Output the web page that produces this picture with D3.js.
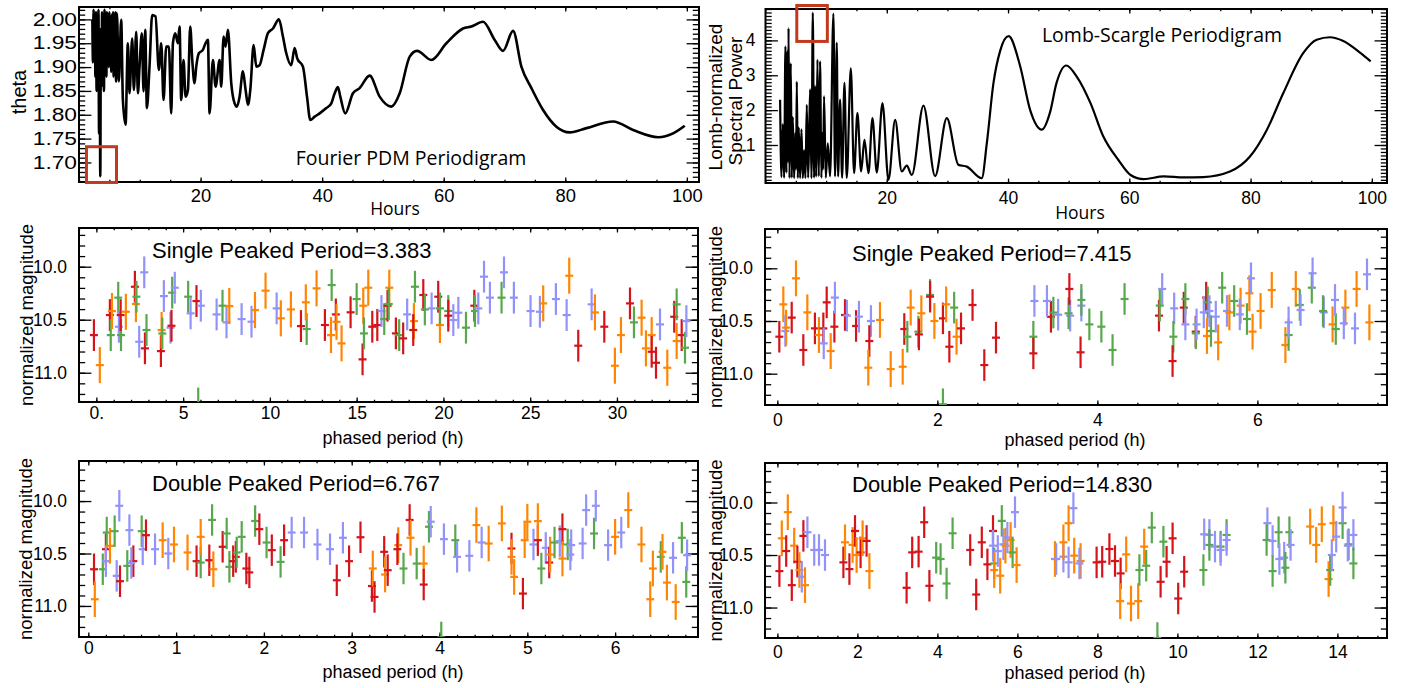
<!DOCTYPE html>
<html>
<head>
<meta charset="utf-8">
<script src="https://cdn.jsdelivr.net/npm/d3@7"></script>
<style>
  body { margin: 0; background: #fff; }
  svg text { font-family: "Liberation Sans", Arial, sans-serif; fill: #000; }
</style>
</head>
<body>
<script>
// ----- data -----

// Fourier PDM periodigram (hours vs theta)
const pdmHours = [2.2,2.3,2.4,2.5,2.6,2.7,2.8,2.9,3.0,3.1,3.2,3.3,3.4,3.5,3.6,3.7,3.8,3.9,4.0,4.1,4.2,4.3,4.4,4.5,4.6,4.7,4.8,4.9,5.0,5.1,5.2,5.3,5.4,5.5,5.6,5.7,5.8,5.9,6.0,6.1,
  6.23,6.56,6.94,7.22,7.66,8.04,8.31,8.75,9.03,9.41,9.69,9.96,10.34,10.62,10.89,11.17,11.6,12.04,12.59,13.14,13.53,13.91,14.35,14.79,15.17,15.45,15.83,16.27,16.54,16.82,
  17.2,17.53,17.92,18.3,18.63,19.01,19.29,19.72,20.38,20.82,21.21,21.48,22.03,22.47,23.13,23.4,23.79,24.12,24.5,25.05,25.6,25.98,26.42,26.97,27.41,27.8,28.18,28.73,29.17,29.71,
  30.37,31.08,31.91,32.89,33.55,34.1,34.92,35.47,35.91,36.84,37.51,38.05,38.77,39.59,40.69,41.51,42.06,42.6,42.99,43.8,45.07,46.17,47.82,49.46,51.39,52.76,54.41,55.61,57.97,
  60.44,63.18,64.55,66.47,68.39,69.76,71.41,72.78,74.43,76.35,78.54,80.74,83.48,87.87,91.16,95.28,97.74,99.66];
const pdmTheta = [2.0,1.91,2.02,1.93,2.01,1.88,2.015,1.85,2.0,1.9,2.02,1.76,1.98,1.671,1.98,1.86,2.015,1.93,2.01,1.85,2.02,1.94,2.0,1.88,2.015,1.95,2.01,1.9,2.015,1.93,1.99,1.89,2.01,1.94,2.015,1.88,2.0,1.95,2.015,1.87,
  2.013,1.870,1.999,1.831,1.779,1.950,1.845,1.960,1.852,1.974,1.845,1.901,1.971,1.849,1.978,1.814,1.901,2.009,2.006,1.894,1.950,1.831,1.943,1.943,1.803,1.950,1.971,1.950,1.985,1.831,
  1.915,1.838,1.852,1.985,1.915,1.866,1.901,1.929,1.936,1.950,1.957,1.803,1.915,1.859,1.915,1.859,1.964,1.943,1.978,1.866,1.824,1.817,1.838,1.891,1.852,1.821,1.852,1.946,1.901,1.904,
  1.936,1.971,1.981,2.000,1.964,1.929,1.904,1.940,1.918,1.901,1.838,1.789,1.796,1.803,1.814,1.824,1.845,1.858,1.838,1.803,1.845,1.856,1.882,1.838,1.817,1.845,1.922,1.934,1.915,
  1.950,1.981,1.985,1.995,1.957,1.934,1.976,1.901,1.856,1.810,1.775,1.763,1.772,1.786,1.768,1.753,1.761,1.777];

// Lomb-Scargle periodigram (hours vs normalized power)
const lsHours = [2.41,2.63,2.85,3.07,3.29,3.45,3.6,3.7,3.8,3.95,4.17,4.33,4.5,4.72,4.94,5.05,5.16,5.33,5.49,5.71,5.93,6.15,6.37,6.59,6.81,7.03,7.2,7.36,7.58,7.8,8.02,8.18,8.35,8.57,8.79,9.0,9.22,9.39,9.5,9.66,9.94,10.27,10.65,
  11.2,11.47,11.75,11.97,12.3,12.63,13.02,13.4,14.07,14.61,15.16,15.77,16.32,16.98,17.64,18.35,19.29,20.28,21.38,22.47,23.3,24.13,26.05,27.97,29.9,31.82,33.2,35.67,36.5,37.6,38.7,40.09,
  42.0,43.65,45.57,46.9,48.0,49.6,51.3,53.6,55.7,58.2,60.2,62.4,65.7,69.0,72.2,76.6,79.9,82.7,85.4,88.7,90.9,93.1,95.3,98.1,99.8];
const lsPower = [2.3,0.08,1.6,0.06,3.83,0.2,3.7,0.5,4.35,0.05,3.35,0.06,1.8,0.05,1.35,0.3,2.82,0.05,1.5,0.05,1.45,0.05,0.85,0.05,2.15,0.06,1.2,2.6,0.05,4.8,0.06,2.7,0.1,3.45,0.1,3.4,0.06,1.35,0.3,2.4,0.06,1.05,0.1,
  4.77,0.1,3.93,0.1,2.3,0.06,2.78,0.06,3.2,0.19,1.92,0.24,1.15,0.19,1.77,0.21,2.2,0.0,1.72,0.24,0.41,0.14,2.13,0.11,1.77,0.43,0.38,0.05,1.05,2.78,3.7,4.12,
  3.26,2.0,1.44,1.92,2.78,3.28,2.97,2.2,1.25,0.57,0.14,0.02,0.1,0.07,0.08,0.24,0.67,1.44,2.49,3.64,4.02,4.09,3.98,3.64,3.4];

// highlighted period ranges (hours, value range)
const pdmBox = { hours: [1.23, 6.17], theta: [1.658, 1.733] };
const lsBox = { hours: [5.16, 10.2], power: [3.97, 5.0] };

// observing nights, magnitude error per night
const nights = ["night 1", "night 2", "night 3", "night 4"];
const magErr = [0.15, 0.17, 0.15, 0.15];

// phased light curves: [phased hours, magnitude, night]
const single3383 = [[-0.14,10.645,0],[0.2,10.928,1],[0.78,10.456,0],[0.83,10.645,2],[0.9,10.418,1],[1.26,10.292,2],[1.3,10.566,3],[1.42,10.645,2],[1.4,10.456,0],[1.7,10.425,1],
  [2.22,10.189,0],[2.28,10.352,1],[2.31,10.283,2],[2.47,10.708,3],[2.76,10.053,3],[2.8,10.77,0],[2.89,10.597,2],[3.72,10.796,0],[3.76,10.597,1],[3.8,10.63,2],[3.89,10.277,3],
  [4.27,10.575,3],[4.33,10.557,0],[4.37,10.245,2],[4.52,10.198,3],[5.29,10.283,2],[5.43,10.44,3],[5.77,10.324,0],[5.87,11.29,2],[6.02,10.368,3],[6.93,10.45,3],[7.27,10.368,2],
  [7.5,10.525,3],[7.66,10.371,1],[8.37,10.494,3],[8.94,10.519,3],[9.14,10.409,1],[9.75,10.226,1],[10.39,10.393,3],[10.63,10.487,1],[11.21,10.403,1],[11.79,10.56,0],[12.12,10.588,2],
  [12.07,10.336,1],[12.69,10.204,1],[13.17,10.55,0],[13.52,10.645,1],[13.8,10.45,0],[13.84,10.52,1],[13.56,10.173,2],[14.13,10.723,1],[14.65,10.43,0],[15.0,10.305,2],
  [15.38,10.368,1],[15.34,10.874,0],[15.42,10.629,2],[15.67,10.198,1],[15.9,10.566,0],[16.19,10.55,0],[16.43,10.418,3],[16.59,10.494,2],[16.78,10.368,0],[16.88,10.198,1],
  [16.85,10.352,2],[17.26,10.629,0],[17.45,10.645,2],[17.68,10.676,0],[17.91,10.45,3],[18.3,10.513,1],[18.26,10.597,0],[18.36,10.189,2],[18.84,10.267,0],[18.93,10.403,2],
  [19.32,10.393,3],[19.7,10.283,0],[19.8,10.55,1],[19.8,10.393,2],[20.28,10.418,2],[20.28,10.462,0],[20.57,10.503,3],[20.86,10.434,3],[21.3,10.575,2],[21.78,10.368,0],
  [21.82,10.418,2],[22.01,10.393,3],[22.34,10.094,3],[22.68,10.292,3],[23.35,10.292,2],[23.49,10.053,3],[24.06,10.292,3],[25.02,10.418,3],[25.56,10.425,3],[25.75,10.346,1],
  [26.48,10.305,3],[27.25,10.085,1],[27.1,10.456,3],[27.77,10.745,0],[28.54,10.355,3],[28.73,10.431,1],[29.27,10.566,0],[29.88,10.934,1],[30.23,10.645,1],[30.75,10.346,0],
  [30.98,10.525,2],[31.42,10.481,1],[31.67,10.77,1],[32.0,10.645,1],[32.0,10.802,0],[32.25,10.906,0],[32.48,10.544,3],[32.9,10.953,1],[33.3,10.472,0],[33.44,10.355,2],
  [33.44,10.701,1],[33.73,10.645,0],[33.92,10.764,2],[34.0,10.513,3]];

const single7415 = [[0.025,10.649,0],[0.075,10.342,1],[0.1,10.595,3],[0.11,10.563,1],[0.18,10.468,0],[0.233,10.095,1],[0.325,10.775,0],[0.375,10.418,1],[0.47,10.57,0],
  [0.52,10.633,1],[0.575,10.57,0],[0.58,10.712,3],[0.617,10.323,0],[0.667,10.785,1],[0.713,10.554,0],[0.72,10.278,3],[0.846,10.443,0],[0.87,10.449,3],[0.984,10.547,0],
  [1.02,10.459,3],[1.17,10.5,3],[1.15,10.69,0],[1.283,10.49,1],[1.137,10.943,1],[1.417,10.956,1],[1.567,10.934,1],[1.587,10.576,0],[1.625,10.649,2],[1.667,10.373,1],
  [1.763,10.601,2],[1.77,10.627,0],[1.8,10.427,1],[1.909,10.253,2],[1.909,10.269,0],[1.963,10.5,1],[2.07,10.475,0],[2.07,11.29,2],[2.11,10.342,1],[2.21,10.373,2],
  [2.15,10.744,0],[2.24,10.649,1],[2.296,10.57,0],[2.44,10.348,0],[2.587,10.918,0],[2.733,10.658,0],[3.2,10.649,2],[3.2,10.807,0],[3.213,10.31,3],[3.42,10.46,0],
  [3.45,10.42,2],[3.37,10.31,3],[3.51,10.44,3],[3.66,10.449,3],[3.64,10.427,2],[3.65,10.196,0],[3.8,10.354,3],[3.8,10.3,2],[3.79,10.797,0],[3.9,10.532,2],[4.05,10.554,2],
  [4.19,10.775,2],[4.34,10.291,2],[4.77,10.449,0],[4.81,10.196,3],[4.78,10.354,2],[4.96,10.38,3],[4.95,10.649,2],[4.94,10.88,0],[5.08,10.373,0],[5.1,10.291,2],[5.1,10.532,3],
  [5.23,10.601,0],[5.23,10.617,2],[5.24,10.532,3],[5.36,10.278,0],[5.33,10.418,3],[5.38,10.323,2],[5.37,10.642,1],[5.42,10.595,2],[5.4,10.405,3],[5.48,10.459,3],
  [5.51,10.703,1],[5.56,10.184,2],[5.62,10.405,3],[5.65,10.418,1],[5.71,10.31,2],[5.79,10.354,1],[5.78,10.437,3],[5.87,10.481,2],[5.9,10.237,1],[5.92,10.095,3],
  [5.94,10.601,1],[6.04,10.405,1],[6.18,10.206,1],[6.35,10.728,1],[6.39,10.633,2],[6.39,10.513,3],[6.48,10.196,1],[6.53,10.348,2],[6.54,10.396,3],[6.68,10.184,2],
  [6.69,10.047,3],[6.83,10.418,3],[6.82,10.405,2],[6.94,10.532,1],[6.98,10.576,2],[6.97,10.3,3],[7.1,10.373,1],[7.08,10.522,3],[7.24,10.196,1],[7.22,10.57,3],
  [7.37,10.057,3],[7.4,10.513,1]];

const double6767 = [[0.065,10.65,0],[0.074,10.936,1],[0.165,10.65,2],[0.2,10.459,0],[0.21,10.3,2],[0.2,10.573,3],[0.247,10.427,1],[0.3,10.287,2],[0.323,10.713,3],
  [0.353,10.045,3],[0.361,10.764,0],[0.444,10.618,2],[0.468,10.277,3],[0.513,10.573,0],[0.49,10.59,3],[0.608,10.287,2],[0.62,10.459,3],[0.657,10.325,0],[0.76,10.459,3],
  [0.847,10.373,1],[0.911,10.5,3],[0.976,10.414,1],[1.13,10.49,1],[1.233,10.573,0],[1.28,10.586,2],[1.28,10.341,1],[1.378,10.564,0],[1.424,10.65,1],[1.41,10.18,2],
  [1.53,10.436,0],[1.576,10.309,2],[1.607,10.627,2],[1.65,10.573,0],[1.68,10.532,0],[1.69,10.49,2],[1.747,10.341,2],[1.8,10.643,0],[1.834,10.68,0],[1.9,10.19,2],
  [1.948,10.268,0],[2.03,10.395,2],[2.09,10.468,0],[2.19,10.58,2],[2.23,10.373,0],[2.316,10.3,3],[2.457,10.3,3],[2.61,10.414,3],[2.753,10.459,3],[2.83,10.755,0],
  [2.9,10.35,3],[2.97,10.573,0],[3.1,10.345,0],[3.23,10.81,0],[3.24,10.643,1],[3.26,10.914,0],[3.37,10.484,0],[3.38,10.7,1],[3.41,10.659,0],[3.53,10.42,1],[3.52,10.459,0],
  [3.59,10.643,2],[3.66,10.18,0],[3.67,10.35,1],[3.74,10.596,2],[3.82,10.596,1],[3.82,10.796,0],[3.88,10.245,2],[3.9,10.197,3],[4.02,11.3,2],[4.05,10.363,3],[4.18,10.373,2],
  [4.2,10.532,3],[4.34,10.522,3],[4.42,10.229,1],[4.48,10.395,3],[4.56,10.405,1],[4.71,10.213,1],[4.82,10.452,0],[4.82,10.532,1],[4.85,10.723,1],[4.95,10.882,0],
  [4.97,10.373,1],[5.0,10.197,1],[5.07,10.414,3],[5.12,10.373,0],[5.12,10.191,1],[5.16,10.643,2],[5.21,10.446,3],[5.25,10.586,0],[5.26,10.51,1],[5.31,10.395,2],
  [5.37,10.382,3],[5.4,10.268,0],[5.4,10.548,1],[5.46,10.414,2],[5.49,10.51,3],[5.5,10.42,3],[5.63,10.404,3],[5.67,10.086,3],[5.76,10.309,2],[5.78,10.045,3],[5.92,10.42,3],
  [6.0,10.341,1],[6.07,10.3,3],[6.15,10.086,1],[6.3,10.414,1],[6.43,10.643,1],[6.4,10.936,1],[6.52,10.532,2],[6.54,10.484,1],[6.59,10.777,1],[6.66,10.541,3],[6.69,10.962,1],
  [6.76,10.35,2],[6.81,10.771,2],[6.82,10.516,3]];

const double14830 = [[0.05,10.653,0],[0.11,10.341,1],[0.26,10.092,1],[0.22,10.462,0],[0.42,10.411,1],[0.36,10.787,0],[0.5,10.564,0],[0.55,10.643,1],[0.61,10.707,3],
  [0.65,10.318,0],[0.69,10.787,1],[0.75,10.283,3],[0.92,10.452,3],[1.04,10.452,3],[1.19,10.5,3],[1.65,10.57,0],[1.69,10.379,1],[1.8,10.634,0],[1.88,10.404,1],[1.94,10.271,0],
  [1.98,10.5,1],[2.08,10.475,0],[2.13,10.341,1],[2.23,10.366,0],[2.3,10.653,1],[3.23,10.812,0],[3.37,10.475,0],[3.53,10.468,0],[3.67,10.188,0],[3.8,10.793,0],[3.97,10.525,2],
  [4.08,10.538,2],[4.23,10.771,2],[4.38,10.293,2],[4.82,10.452,0],[4.97,10.876,0],[5.11,10.379,0],[5.25,10.589,0],[5.39,10.271,0],[5.39,10.411,3],[5.42,10.58,2],[5.42,10.643,1],
  [5.51,10.462,3],[5.57,10.697,1],[5.61,10.175,2],[5.65,10.398,3],[5.7,10.411,1],[5.75,10.334,3],[5.83,10.357,1],[5.88,10.475,2],[5.94,10.092,3],[5.98,10.596,1],
  [6.94,10.538,1],[6.97,10.538,3],[7.15,10.516,3],[7.15,10.379,1],[7.28,10.197,1],[7.28,10.57,3],[7.4,10.054,3],[7.42,10.506,1],[7.58,10.557,1],[7.55,10.58,3],
  [7.98,10.57,0],[8.12,10.564,0],[8.3,10.443,0],[8.44,10.557,0],[8.58,10.675,0],[8.57,10.939,1],[8.72,10.494,1],[8.84,10.962,1],[9.02,10.939,1],[9.05,10.643,2],
  [9.17,10.42,1],[9.22,10.602,2],[9.36,10.239,2],[9.5,11.29,2],[9.65,10.373,2],[9.58,10.755,0],[9.73,10.564,0],[9.88,10.341,0],[10.02,10.914,0],[10.17,10.659,0],
  [10.65,10.643,2],[10.67,10.303,3],[10.8,10.309,3],[10.8,10.404,2],[10.94,10.42,3],[11.08,10.42,2],[11.08,10.452,3],[11.23,10.309,2],[11.23,10.357,3],[12.25,10.197,3],
  [12.23,10.357,2],[12.38,10.366,3],[12.38,10.653,2],[12.53,10.283,2],[12.55,10.538,3],[12.67,10.525,3],[12.7,10.621,2],[12.8,10.283,2],[12.83,10.404,3],[13.32,10.229,1],
  [13.47,10.404,1],[13.61,10.207,1],[13.78,10.729,1],[13.82,10.643,2],[13.86,10.5,3],[13.9,10.197,1],[13.97,10.325,3],[14.13,10.197,2],[14.13,10.048,3],[14.28,10.398,2],
  [14.26,10.411,3],[14.4,10.309,3],[14.4,10.58,2]];

// half exposure length in phased hours, one per light curve
const phaseHalfWidth = [0.23, 0.05, 0.045, 0.1];

// tick labels
const hourTicks = [20, 40, 60, 80, 100];
const thetaTicks = [1.70, 1.75, 1.80, 1.85, 1.90, 1.95, 2.00];
const powerTicks = [1, 2, 3, 4];
const magTicks = [10.0, 10.5, 11.0];
const ticks3383 = [0, 5, 10, 15, 20, 25, 30];
const ticks7415 = [0, 2, 4, 6];
const ticks6767 = [0, 1, 2, 3, 4, 5, 6];
const ticks14830 = [0, 2, 4, 6, 8, 10, 12, 14];

const nightColor = ["#d5141a", "#ff8605", "#57a84c", "#9292fb"];

// ----- drawing -----
const svg = d3.select("body").append("svg")
    .attr("width", 1408).attr("height", 688);

let clipId = 0;

function panel(o) {
    const g = svg.append("g");
    const x = d3.scaleLinear().domain(o.xDomain).range([o.left, o.right]);
    const y = d3.scaleLinear().domain(o.yDomain).range([o.bottom, o.top]);
    const xLen = 0.02 * (o.bottom - o.top) + 1;
    const yLen = 0.02 * (o.right - o.left);

    const axes = [
        [d3.axisBottom(x).tickValues(o.xMajor).tickSize(-xLen).tickPadding(o.xPad).tickFormat(o.xFmt), 0, o.bottom, "x"],
        [d3.axisBottom(x).tickValues(o.xMinor).tickSize(-xLen / 2).tickFormat(""), 0, o.bottom],
        [d3.axisTop(x).tickValues(o.xMajor).tickSize(-xLen).tickFormat(""), 0, o.top],
        [d3.axisTop(x).tickValues(o.xMinor).tickSize(-xLen / 2).tickFormat(""), 0, o.top],
        [d3.axisLeft(y).tickValues(o.yMajor).tickSize(-yLen).tickPadding(o.yPad).tickFormat(o.yFmt), o.left, 0, "y"],
        [d3.axisLeft(y).tickValues(o.yMinor).tickSize(-yLen / 2).tickFormat(""), o.left, 0],
        [d3.axisRight(y).tickValues(o.yMajor).tickSize(-yLen).tickFormat(""), o.right, 0],
        [d3.axisRight(y).tickValues(o.yMinor).tickSize(-yLen / 2).tickFormat(""), o.right, 0]
    ];
    axes.forEach(([ax, tx, ty, kind]) => {
        const a = g.append("g").attr("transform", `translate(${tx},${ty})`).call(ax);
        a.attr("font-size", null).attr("font-family", null);
        a.select(".domain").remove();
        a.selectAll("line").attr("stroke", "#000").attr("stroke-width", 1.3);
        a.selectAll("text").style("font-size", "17.5px");
        if (kind === "y") {
            a.selectAll("text")
             .attr("x", -o.yPad / o.ySx)
             .attr("transform", `scale(${o.ySx},1)`);
        }
        if (kind === "x") {
            a.selectAll("text").attr("transform", `scale(${o.xSx},1)`);
        }
    });

    g.append("rect")
        .attr("x", o.left).attr("y", o.top)
        .attr("width", o.right - o.left).attr("height", o.bottom - o.top)
        .attr("fill", "none").attr("stroke", "#000").attr("stroke-width", 2);

    const id = "clip" + (clipId++);
    svg.append("clipPath").attr("id", id)
       .append("rect")
       .attr("x", o.left).attr("y", o.top)
       .attr("width", o.right - o.left).attr("height", o.bottom - o.top);
    const plot = g.append("g").attr("clip-path", `url(#${id})`);

    return {g, plot, x, y};
}

function minorTicks(lo, hi, step) {
    return d3.range(Math.ceil(lo / step) * step, hi + 1e-9, step);
}

// --- top left: PDM periodigram ---
const pdm = panel({
    left: 79, right: 699, top: 7, bottom: 182,
    xDomain: [0, 102], yDomain: [1.659, 2.026],
    xMajor: hourTicks, xMinor: minorTicks(0, 102, 5), xFmt: d => d, xPad: 8, xSx: 1.05,
    yMajor: thetaTicks, yMinor: minorTicks(1.66, 2.026, 0.01), yFmt: d3.format(".2f"), yPad: 2, ySx: 1.3
});
pdm.plot.append("path")
    .datum(d3.zip(pdmHours, pdmTheta))
    .attr("fill", "none").attr("stroke", "#000").attr("stroke-width", 2.6)
    .attr("stroke-linejoin", "round")
    .attr("d", d3.line().x(d => pdm.x(d[0])).y(d => pdm.y(d[1])).curve(d3.curveMonotoneX));
pdm.g.append("rect")
    .attr("x", pdm.x(pdmBox.hours[0])).attr("y", pdm.y(pdmBox.theta[1]))
    .attr("width", pdm.x(pdmBox.hours[1]) - pdm.x(pdmBox.hours[0]))
    .attr("height", pdm.y(pdmBox.theta[0]) - pdm.y(pdmBox.theta[1]))
    .attr("fill", "none").attr("stroke", "#c23a1e").attr("stroke-width", 3);
svg.append("text").attr("x", 411).attr("y", 165).attr("text-anchor", "middle")
    .style("font-family", "'Open Sans', sans-serif").style("font-size", "19.5px")
    .text("Fourier PDM Periodigram");
svg.append("text").attr("x", 395).attr("y", 215).attr("text-anchor", "middle")
    .style("font-family", "'Open Sans', sans-serif").style("font-size", "17.5px")
    .text("Hours");
svg.append("text").attr("transform", "translate(26,92) rotate(-90)").attr("text-anchor", "middle")
    .style("font-size", "20px").text("theta");

// --- top right: Lomb-Scargle periodigram ---
const ls = panel({
    left: 765.5, right: 1387, top: 9, bottom: 183,
    xDomain: [0, 102.5], yDomain: [-0.09, 4.9],
    xMajor: hourTicks, xMinor: minorTicks(0, 102.5, 5), xFmt: d => d, xPad: 9, xSx: 1,
    yMajor: powerTicks, yMinor: minorTicks(0, 4.9, 0.1), yFmt: d => d, yPad: 10, ySx: 1
});
ls.plot.append("path")
    .datum(d3.zip(lsHours, lsPower))
    .attr("fill", "none").attr("stroke", "#000").attr("stroke-width", 2.2)
    .attr("stroke-linejoin", "round")
    .attr("d", d3.line().x(d => ls.x(d[0])).y(d => ls.y(d[1])).curve(d3.curveMonotoneX));
ls.g.append("rect")
    .attr("x", ls.x(lsBox.hours[0])).attr("y", ls.y(lsBox.power[1]))
    .attr("width", ls.x(lsBox.hours[1]) - ls.x(lsBox.hours[0]))
    .attr("height", ls.y(lsBox.power[0]) - ls.y(lsBox.power[1]))
    .attr("fill", "none").attr("stroke", "#c23a1e").attr("stroke-width", 3);
svg.append("text").attr("x", 1162).attr("y", 42).attr("text-anchor", "middle")
    .style("font-family", "'Open Sans', sans-serif").style("font-size", "19.5px")
    .text("Lomb-Scargle Periodigram");
svg.append("text").attr("x", 1080).attr("y", 219).attr("text-anchor", "middle")
    .style("font-family", "'Open Sans', sans-serif").style("font-size", "17.5px")
    .text("Hours");
svg.append("text").attr("transform", "translate(722,97) rotate(-90)").attr("text-anchor", "middle")
    .style("font-size", "19px").text("Lomb-normalized");
svg.append("text").attr("transform", "translate(742,101) rotate(-90)").attr("text-anchor", "middle")
    .style("font-size", "19px").text("Spectral Power");

// --- phased light curves ---
const curves = [
    { data: single3383, ticks: ticks3383, title: "Single Peaked Period=3.383",
      box: {left: 79, right: 698, top: 228, bottom: 402}, xDomain: [-1.0, 34.67], yDomain: [11.276, 9.635],
      minor: 1, fmt: d => d === 0 ? "0." : d, xPad: 5, ylab: 33, titleX: 152, titleY: 258, xlabX: 393, xlabY: 444 },
    { data: single7415, ticks: ticks7415, title: "Single Peaked Period=7.415",
      box: {left: 765, right: 1387, top: 229, bottom: 405}, xDomain: [-0.154, 7.62], yDomain: [11.297, 9.627],
      minor: 0.5, fmt: d => d, xPad: 9, ylab: 722, titleX: 852, titleY: 261, xlabX: 1075, xlabY: 446 },
    { data: double6767, ticks: ticks6767, title: "Double Peaked Period=6.767",
      box: {left: 79, right: 698, top: 461, bottom: 637}, xDomain: [-0.106, 6.944], yDomain: [11.296, 9.618],
      minor: 0.2, fmt: d => d, xPad: 5, ylab: 32, titleX: 152, titleY: 491, xlabX: 393, xlabY: 678 },
    { data: double14830, ticks: ticks14830, title: "Double Peaked Period=14.830",
      box: {left: 765, right: 1387, top: 463, bottom: 638}, xDomain: [-0.31, 15.24], yDomain: [11.29, 9.624],
      minor: 0.5, fmt: d => d, xPad: 8, ylab: 722, titleX: 852, titleY: 492, xlabX: 1075, xlabY: 679 }
];

curves.forEach((c, i) => {
    const p = panel({
        ...c.box,
        xDomain: c.xDomain, yDomain: c.yDomain,
        xMajor: c.ticks, xMinor: minorTicks(c.xDomain[0], c.xDomain[1], c.minor), xFmt: c.fmt, xPad: c.xPad, xSx: 1,
        yMajor: magTicks, yMinor: minorTicks(9.7, 11.29, 0.1), yFmt: d3.format(".1f"), yPad: 12, ySx: 1
    });
    const hw = phaseHalfWidth[i];
    const pts = p.plot.selectAll("g.pt").data(c.data).join("g").attr("class", "pt")
        .attr("stroke", d => nightColor[d[2]]).attr("stroke-width", 2.2);
    pts.append("line")
        .attr("x1", d => p.x(d[0])).attr("x2", d => p.x(d[0]))
        .attr("y1", d => p.y(d[1] - magErr[d[2]])).attr("y2", d => p.y(d[1] + magErr[d[2]]));
    pts.append("line")
        .attr("x1", d => p.x(d[0] - hw)).attr("x2", d => p.x(d[0] + hw))
        .attr("y1", d => p.y(d[1])).attr("y2", d => p.y(d[1]));

    svg.append("text").attr("x", c.titleX).attr("y", c.titleY)
        .style("font-size", "22px").text(c.title);
    svg.append("text").attr("x", c.xlabX).attr("y", c.xlabY).attr("text-anchor", "middle")
        .style("font-size", "18px").text("phased period (h)");
    svg.append("text")
        .attr("transform", `translate(${c.ylab},${(c.box.top + c.box.bottom) / 2}) rotate(-90)`)
        .attr("text-anchor", "middle")
        .style("font-size", "18.5px").text("normalized magnitude");
});
</script>
</body>
</html>
